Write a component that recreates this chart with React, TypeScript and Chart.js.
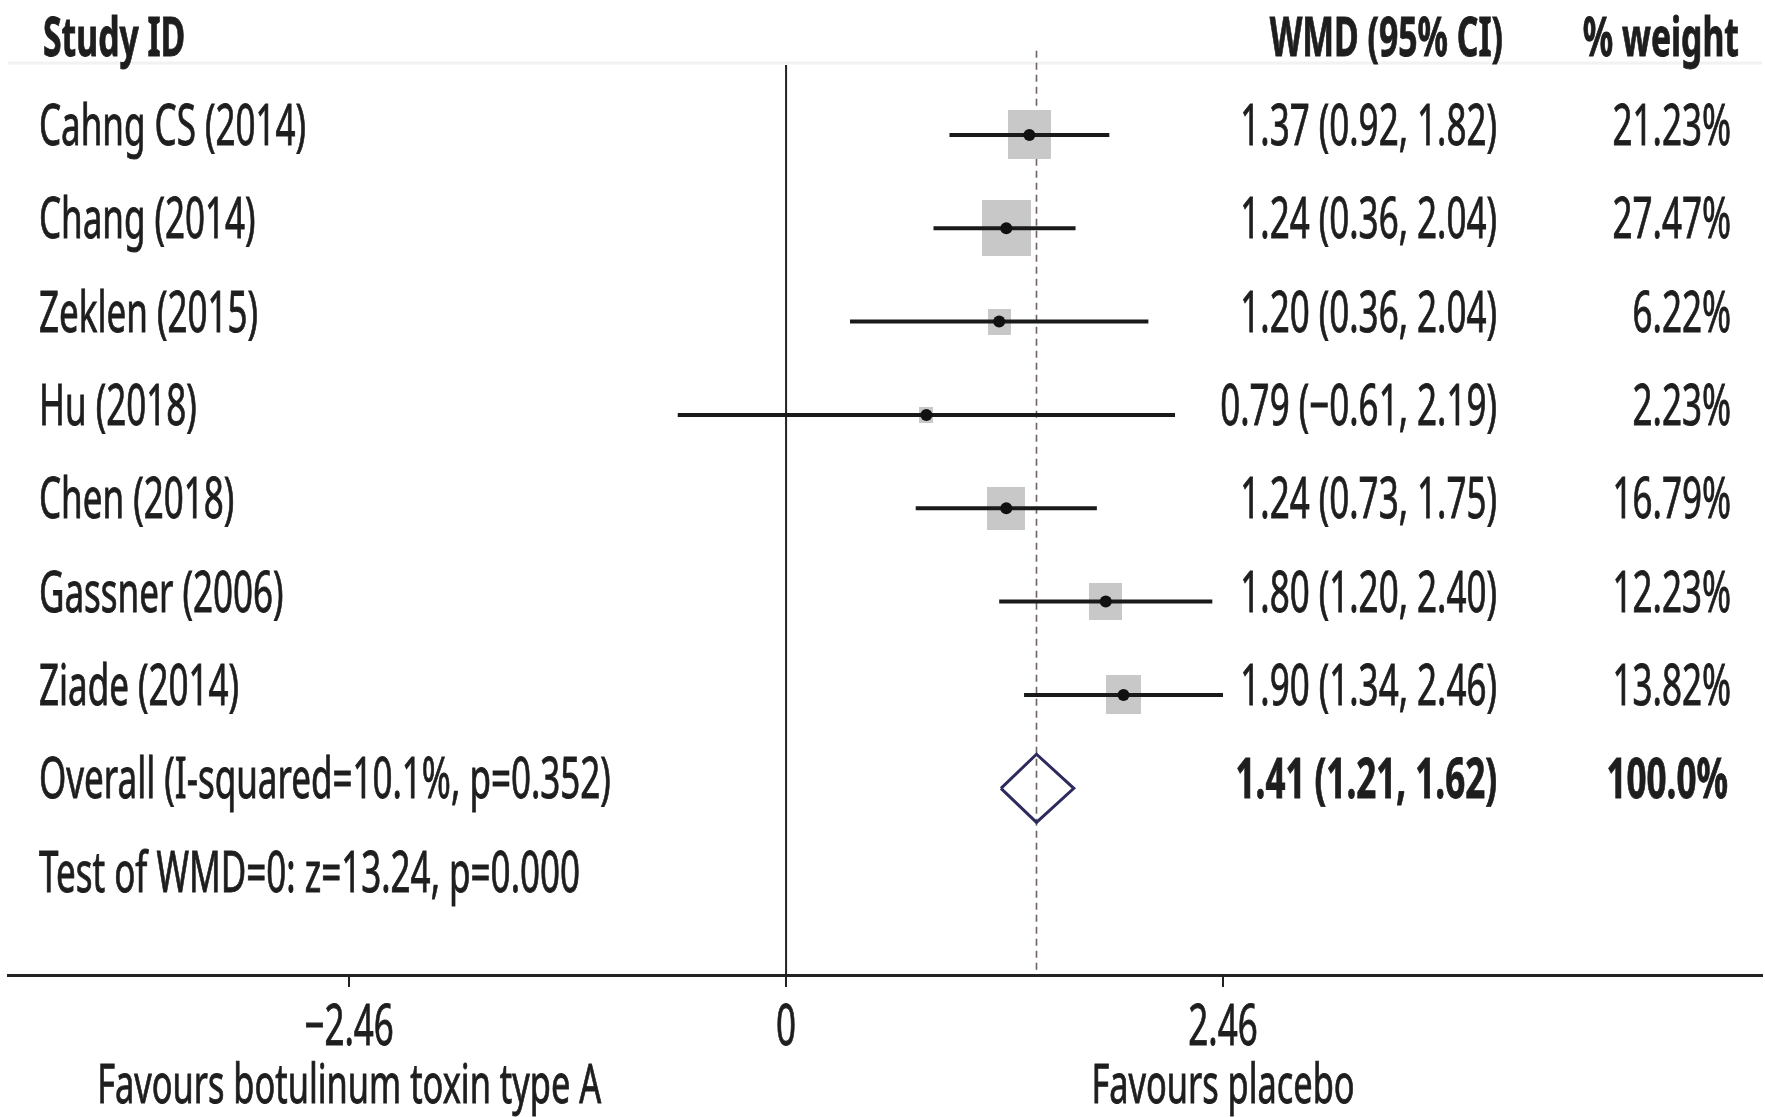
import React, { useEffect, useRef } from "react";
import { Chart, registerables } from "chart.js";

Chart.register(...registerables);

// ---------- data ----------
const studyLabels = [
  "Cahng CS (2014)",
  "Chang (2014)",
  "Zeklen (2015)",
  "Hu (2018)",
  "Chen (2018)",
  "Gassner (2006)",
  "Ziade (2014)",
];
const wmd = [1.37, 1.24, 1.2, 0.79, 1.24, 1.8, 1.9];
// confidence-interval whiskers as drawn in the picture
const ciLow = [0.92, 0.83, 0.36, -0.61, 0.73, 1.2, 1.34];
const ciHigh = [1.82, 1.63, 2.04, 2.19, 1.75, 2.4, 2.46];
const ciText = [
  "1.37 (0.92, 1.82)",
  "1.24 (0.36, 2.04)",
  "1.20 (0.36, 2.04)",
  "0.79 (\u22120.61, 2.19)",
  "1.24 (0.73, 1.75)",
  "1.80 (1.20, 2.40)",
  "1.90 (1.34, 2.46)",
];
const weights = [21.23, 27.47, 6.22, 2.23, 16.79, 12.23, 13.82];

const overallEstimate = 1.41;
const overallLow = 1.21;
const overallHigh = 1.62;
const overallLabel = "Overall (I-squared=10.1%, p=0.352)";
const overallText = "1.41 (1.21, 1.62)";
const overallWeight = "100.0%";
const testLabel = "Test of WMD=0: z=13.24, p=0.000";

const headerStudy = "Study ID";
const headerCI = "WMD (95% CI)";
const headerWeight = "% weight";

const tickValues = [-2.46, 0, 2.46];
const tickLabels = ["\u22122.46", "0", "2.46"];
const favourLeft = "Favours botulinum toxin type A";
const favourRight = "Favours placebo";

// ---------- layout / style ----------
const W = 1765;
const H = 1117;
const X_MIN = -4.381;
const X_MAX = 5.495;
const Y_TOP = -0.445;
const Y_BOTTOM = 10;
const FONT = "'Noto Sans', 'Open Sans', 'DejaVu Sans', sans-serif";
const TEXT_COLOR = "#1e1e1e";
const BOX_COLOR = "#c8c8c8";

function makeBox(weight: number): HTMLCanvasElement {
  const c = document.createElement("canvas");
  const s = Math.sqrt(weight);
  c.width = Math.max(2, Math.round(9.3 * s));
  c.height = Math.max(2, Math.round(10.6 * s));
  const g = c.getContext("2d")!;
  g.fillStyle = BOX_COLOR;
  g.fillRect(0, 0, c.width, c.height);
  return c;
}

const textPlugin = {
  id: "forestText",
  afterDraw(chart: any) {
    const ctx = chart.ctx as CanvasRenderingContext2D;
    const xs = chart.scales.x;
    const ys = chart.scales.y;
    ctx.save();
    ctx.font = `56px ${FONT}`;
    const sx = 267 / ctx.measureText("Cahng CS (2014)").width;
    ctx.restore();

    const put = (
      text: string,
      x: number,
      y: number,
      align: CanvasTextAlign,
      size: number,
      bold = false
    ) => {
      ctx.save();
      ctx.font = `${bold ? "bold " : ""}${size}px ${FONT}`;
      ctx.fillStyle = TEXT_COLOR;
      ctx.strokeStyle = TEXT_COLOR;
      ctx.lineWidth = 0.9;
      ctx.textAlign = align;
      ctx.textBaseline = "alphabetic";
      ctx.translate(x, y);
      ctx.scale(sx, 1);
      ctx.fillText(text, 0, 0);
      ctx.strokeText(text, 0, 0);
      ctx.restore();
    };

    const base = (row: number) => ys.getPixelForValue(row) + 10;

    // header
    put(headerStudy, 43, base(0) + 4, "left", 54, true);
    put(headerCI, 1503, base(0) + 4, "right", 54, true);
    put(headerWeight, 1739, base(0) + 4, "right", 54, true);

    studyLabels.forEach((lab, i) => {
      const r = i + 1;
      put(lab, 39, base(r), "left", 56);
      put(ciText[i], 1497, base(r), "right", 56);
      put(weights[i].toFixed(2) + "%", 1731, base(r), "right", 56);
    });

    const ro = studyLabels.length + 1;
    put(overallLabel, 39, base(ro), "left", 56);
    put(overallText, 1497, base(ro), "right", 56, true);
    put(overallWeight, 1728, base(ro), "right", 56, true);
    put(testLabel, 39, base(ro + 1), "left", 56);

    // tick labels
    tickValues.forEach((v, i) => {
      put(tickLabels[i], xs.getPixelForValue(v), 1045, "center", 56);
    });
    put(favourLeft, xs.getPixelForValue(tickValues[0]), 1103, "center", 55);
    put(favourRight, xs.getPixelForValue(tickValues[2]), 1103, "center", 55);
  },
};

export default function App() {
  const ref = useRef<HTMLCanvasElement | null>(null);

  useEffect(() => {
    if (!ref.current) return;
    const boxes = weights.map(makeBox);
    const nStudies = studyLabels.length;
    const overallRow = nStudies + 1;

    const datasets: any[] = [];
    // center dots (top-most)
    datasets.push({
      data: wmd.map((v, i) => ({ x: v, y: i + 1 })),
      pointRadius: 6,
      pointBackgroundColor: "#111",
      pointBorderWidth: 0,
      showLine: false,
    });
    // CI whiskers
    wmd.forEach((_, i) => {
      datasets.push({
        data: [
          { x: ciLow[i], y: i + 1 },
          { x: ciHigh[i], y: i + 1 },
        ],
        showLine: true,
        borderColor: "#1a1a1a",
        borderWidth: 4,
        pointRadius: 0,
      });
    });
    // weight boxes
    datasets.push({
      data: wmd.map((v, i) => ({ x: v, y: i + 1 })),
      pointStyle: (c: any) => boxes[c.dataIndex],
      pointRadius: 20,
      showLine: false,
    });
    // overall diamond
    datasets.push({
      data: [
        { x: overallLow, y: overallRow },
        { x: overallEstimate, y: overallRow - 0.365 },
        { x: overallHigh, y: overallRow },
        { x: overallEstimate, y: overallRow + 0.365 },
        { x: overallLow, y: overallRow },
      ],
      showLine: true,
      borderColor: "#2d2a5e",
      borderWidth: 3,
      pointRadius: 0,
      tension: 0,
    });
    // dashed overall line
    datasets.push({
      data: [
        { x: overallEstimate, y: 0.1 },
        { x: overallEstimate, y: Y_BOTTOM },
      ],
      showLine: true,
      borderColor: "#6e6262",
      borderWidth: 1.6,
      borderDash: [7, 5],
      pointRadius: 0,
    });
    // null line
    datasets.push({
      data: [
        { x: 0, y: 0.25 },
        { x: 0, y: Y_BOTTOM },
      ],
      showLine: true,
      borderColor: "#222",
      borderWidth: 2,
      pointRadius: 0,
    });
    // faint header rule
    datasets.push({
      data: [
        { x: X_MIN, y: 0.23 },
        { x: X_MAX, y: 0.23 },
      ],
      showLine: true,
      borderColor: "#f2f2f2",
      borderWidth: 3,
      pointRadius: 0,
    });

    const chart = new Chart(ref.current, {
      type: "scatter",
      data: { datasets },
      options: {
        responsive: false,
        animation: false,
        devicePixelRatio: 1,
        layout: { autoPadding: false, padding: { left: 8, right: 3, top: 0, bottom: 0 } },
        plugins: { legend: { display: false }, tooltip: { enabled: false } },
        scales: {
          x: {
            type: "linear",
            min: X_MIN,
            max: X_MAX,
            afterBuildTicks: (s: any) => {
              s.ticks = tickValues.map((v) => ({ value: v }));
            },
            afterFit: (s: any) => {
              s.height = H - 975;
            },
            ticks: { display: false },
            grid: {
              drawOnChartArea: false,
              drawTicks: true,
              tickLength: 12,
              color: "#222",
              lineWidth: 2,
            },
            border: { display: true, color: "#222", width: 3 },
          },
          y: {
            type: "linear",
            reverse: true,
            min: Y_TOP,
            max: Y_BOTTOM,
            display: false,
          },
        },
      } as any,
      plugins: [textPlugin],
    });
    return () => chart.destroy();
  }, []);

  return (
    <div style={{ position: "absolute", left: 0, top: 0, width: W, height: H, background: "#fff" }}>
      <canvas ref={ref} width={W} height={H} style={{ display: "block" }} />
    </div>
  );
}
